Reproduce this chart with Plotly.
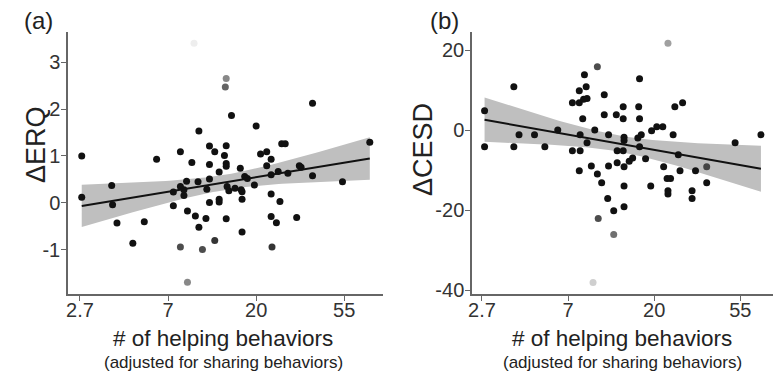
import numpy as np
import plotly.graph_objects as go

# ---------------- data (x on natural-log scale of # helping behaviors) ----------------
tick_vals = [1, 2, 3, 4]
tick_text = ["2.7", "7", "20", "55"]

erq_log_helping = [1.02, 1.02, 1.36, 1.37, 1.42, 1.60, 1.73, 1.87, 2.06, 2.06, 2.14, 2.14, 2.18, 2.18,
                   2.14, 2.21, 2.22, 2.22, 2.27, 2.295, 2.31, 2.34, 2.35, 2.35, 2.39, 2.43, 2.44, 2.47,
                   2.47, 2.47, 2.47, 2.53, 2.53, 2.58, 2.58, 2.58, 2.65, 2.66, 2.66, 2.64, 2.66, 2.66,
                   2.66, 2.67, 2.69, 2.72, 2.76, 2.82, 2.83, 2.84, 2.84, 2.84, 2.87, 2.90, 2.98, 3.00,
                   3.05, 3.12, 3.17, 3.12, 3.17, 3.17, 3.17, 3.18, 3.23, 3.25, 3.27, 3.29, 3.33, 3.36,
                   3.46, 3.49, 3.51, 3.64, 3.64, 3.98, 4.29]
erq_change = [1.00, 0.12, 0.37, -0.04, -0.43, -0.86, -0.40, 0.93, 0.23, -0.06, 1.09, 0.35, 0.28, 0.16,
              -0.94, 0.46, -0.17, -1.69, 0.86, 3.40, -0.28, 0.45, 1.53, -0.52, -0.99, -0.33, 0.29, 1.21,
              0.82, 0.51, 0.01, 1.09, -0.80, 0.66, 0.08, 0.02, 2.47, 2.65, 1.22, 1.01, 0.84, 0.78,
              -0.34, 0.35, 0.26, 1.86, 0.31, 0.74, 0.28, 0.24, 0.08, -0.62, 0.56, 0.52, 0.38, 1.64,
              1.04, 1.09, 0.93, 0.79, 0.60, 0.19, -0.29, -0.94, -0.42, 0.67, 0.03, 1.26, 1.26, 0.63,
              -0.31, 0.79, 0.76, 2.12, 0.58, 0.45, 1.29]
erq_weight = [1.0] * len(erq_change)
for i, w in {14: 0.75, 17: 0.5, 19: 0.07, 24: 0.75, 32: 0.85, 36: 0.65, 37: 0.5, 63: 0.85}.items():
    erq_weight[i] = w

cesd_log_helping = [1.03, 1.03, 1.37, 1.37, 1.43, 1.61, 1.73, 1.88, 2.05, 2.05, 2.13, 2.13, 2.13, 2.14,
                    2.14, 2.17, 2.18, 2.19, 2.21, 2.22, 2.22, 2.27, 2.29, 2.31, 2.34, 2.34, 2.35, 2.39,
                    2.42, 2.42, 2.46, 2.47, 2.47, 2.53, 2.53, 2.56, 2.57, 2.57, 2.64, 2.64, 2.64, 2.65,
                    2.65, 2.65, 2.65, 2.65, 2.71, 2.75, 2.81, 2.82, 2.83, 2.83, 2.83, 2.85, 2.90, 2.96,
                    2.97, 3.03, 3.10, 3.11, 3.16, 3.15, 3.19, 3.16, 3.16, 3.22, 3.24, 3.28, 3.30, 3.33,
                    3.44, 3.44, 3.48, 3.61, 3.61, 3.94, 4.24]
cesd_change = [4.8, -4.2, 10.8, -4.2, -1.2, -1.2, -4.2, 0.0, 6.8, -5.2, 6.8, 9.8, -10.2, -1.2,
               -5.2, 2.8, 7.7, 13.8, 10.8, 7.9, -3.2, -9.0, -38.1, 0.0, 15.8, -11.0, -22.1, -13.2,
               8.8, 3.8, -17.1, -1.2, -9.0, -20.2, -26.1, 3.8, -5.2, -8.2, 5.8, 2.8, -5.2, -9.2,
               -1.8, -2.6, -14.0, -19.2, -7.8, -7.0, -2.0, 5.8, 2.8, 12.8, -4.2, -1.2, -7.2, -14.0,
               -0.2, 0.8, 0.8, -9.2, 21.7, -12.1, -12.1, -15.2, -16.0, -1.2, 5.8, -6.2, -10.2, 6.8,
               -15.2, -17.1, -10.2, -9.2, -13.2, -3.2, -1.2]
cesd_weight = [1.0] * len(cesd_change)
for i, w in {22: 0.2, 24: 0.75, 26: 0.75, 34: 0.6, 60: 0.4, 73: 0.7}.items():
    cesd_weight[i] = w

T_CRIT = 1.99


def fit_band(x, y, w, n_grid=80):
    x = np.asarray(x, float)
    y = np.asarray(y, float)
    w = np.asarray(w, float)
    X = np.column_stack([np.ones_like(x), x])
    XtW = X.T * w
    cov_u = np.linalg.inv(XtW @ X)
    beta = cov_u @ (XtW @ y)
    resid = y - X @ beta
    n = len(x)
    s2 = np.sum(w * resid ** 2) / (n - 2)
    gx = np.linspace(x.min(), x.max(), n_grid)
    G = np.column_stack([np.ones_like(gx), gx])
    gy = G @ beta
    se = np.sqrt(s2 * np.einsum("ij,jk,ik->i", G, cov_u, G))
    return gx, gy, gy - T_CRIT * se, gy + T_CRIT * se


FONT = "Liberation Sans, Arial, sans-serif"
fig = go.Figure()


def add_panel(x, y, w, xa, ya):
    gx, gy, lo, hi = fit_band(x, y, w)
    fig.add_trace(go.Scatter(x=np.concatenate([gx, gx[::-1]]), y=np.concatenate([hi, lo[::-1]]),
                             fill="toself", fillcolor="#bfbfbf", line=dict(width=0),
                             mode="lines", hoverinfo="skip", showlegend=False, xaxis=xa, yaxis=ya))
    cols = ["rgba(17,17,17,%.2f)" % wi for wi in w]
    fig.add_trace(go.Scatter(x=x, y=y, mode="markers",
                             marker=dict(size=7, color=cols, line=dict(width=0)),
                             showlegend=False, xaxis=xa, yaxis=ya))
    fig.add_trace(go.Scatter(x=gx, y=gy, mode="lines", line=dict(color="#111111", width=2),
                             showlegend=False, xaxis=xa, yaxis=ya))


add_panel(erq_log_helping, erq_change, erq_weight, "x", "y")
add_panel(cesd_log_helping, cesd_change, cesd_weight, "x2", "y2")

W, H = 774, 371
ydom = [1 - 294 / H, 1 - 32 / H]
axis_common = dict(showgrid=False, zeroline=False, showline=True, linecolor="#666666", linewidth=1.5,
                   ticks="outside", ticklen=5, tickcolor="#666666", tickwidth=1.2, automargin=False,
                   tickfont=dict(family=FONT, size=20, color="#333333"))
xaxis_extra = dict(ticklabelstandoff=-8)
yaxis_extra = dict(ticklabelstandoff=-3)

fig.update_layout(
    width=W, height=H, margin=dict(l=0, r=0, t=0, b=0, autoexpand=False),
    paper_bgcolor="white", plot_bgcolor="white",
    xaxis=dict(domain=[68 / W, 383 / W], range=[0.864, 4.44], tickvals=tick_vals, ticktext=tick_text,
               anchor="y", **axis_common, **xaxis_extra),
    yaxis=dict(domain=ydom, range=[-1.94, 3.64], tickvals=[-1, 0, 1, 2, 3],
               ticktext=["-1", "0", "1", "2", "3"], anchor="x", **axis_common, **yaxis_extra),
    xaxis2=dict(domain=[472 / W, 773 / W], range=[0.884, 4.38], tickvals=tick_vals, ticktext=tick_text,
                anchor="y2", **axis_common, **xaxis_extra),
    yaxis2=dict(domain=ydom, range=[-41, 24.5], tickvals=[-40, -20, 0, 20],
                ticktext=["-40", "-20", "0", "20"], anchor="x2", **axis_common, **yaxis_extra),
)


def txt(x, y, text, size, angle=0):
    return dict(x=x / W, y=1 - y / H, text=text, showarrow=False, textangle=angle,
                xanchor="center", yanchor="middle", xref="paper", yref="paper",
                font=dict(family=FONT, size=size, color="#222222"))


ann = [
    txt(38, 21, "(a)", 24),
    txt(445, 21, "(b)", 24),
    txt(36, 145, "ΔERQ", 27, -90),
    txt(423, 150, "ΔCESD", 27, -90),
]
for cx in [223, 622]:
    ann.append(txt(cx, 338, "# of helping behaviors", 22.5))
    ann.append(txt(cx, 362, "(adjusted for sharing behaviors)", 17))
fig.update_layout(annotations=ann)

fig.write_html("out.html", config={"displayModeBar": False},
               post_script="document.body.style.margin='0';")
